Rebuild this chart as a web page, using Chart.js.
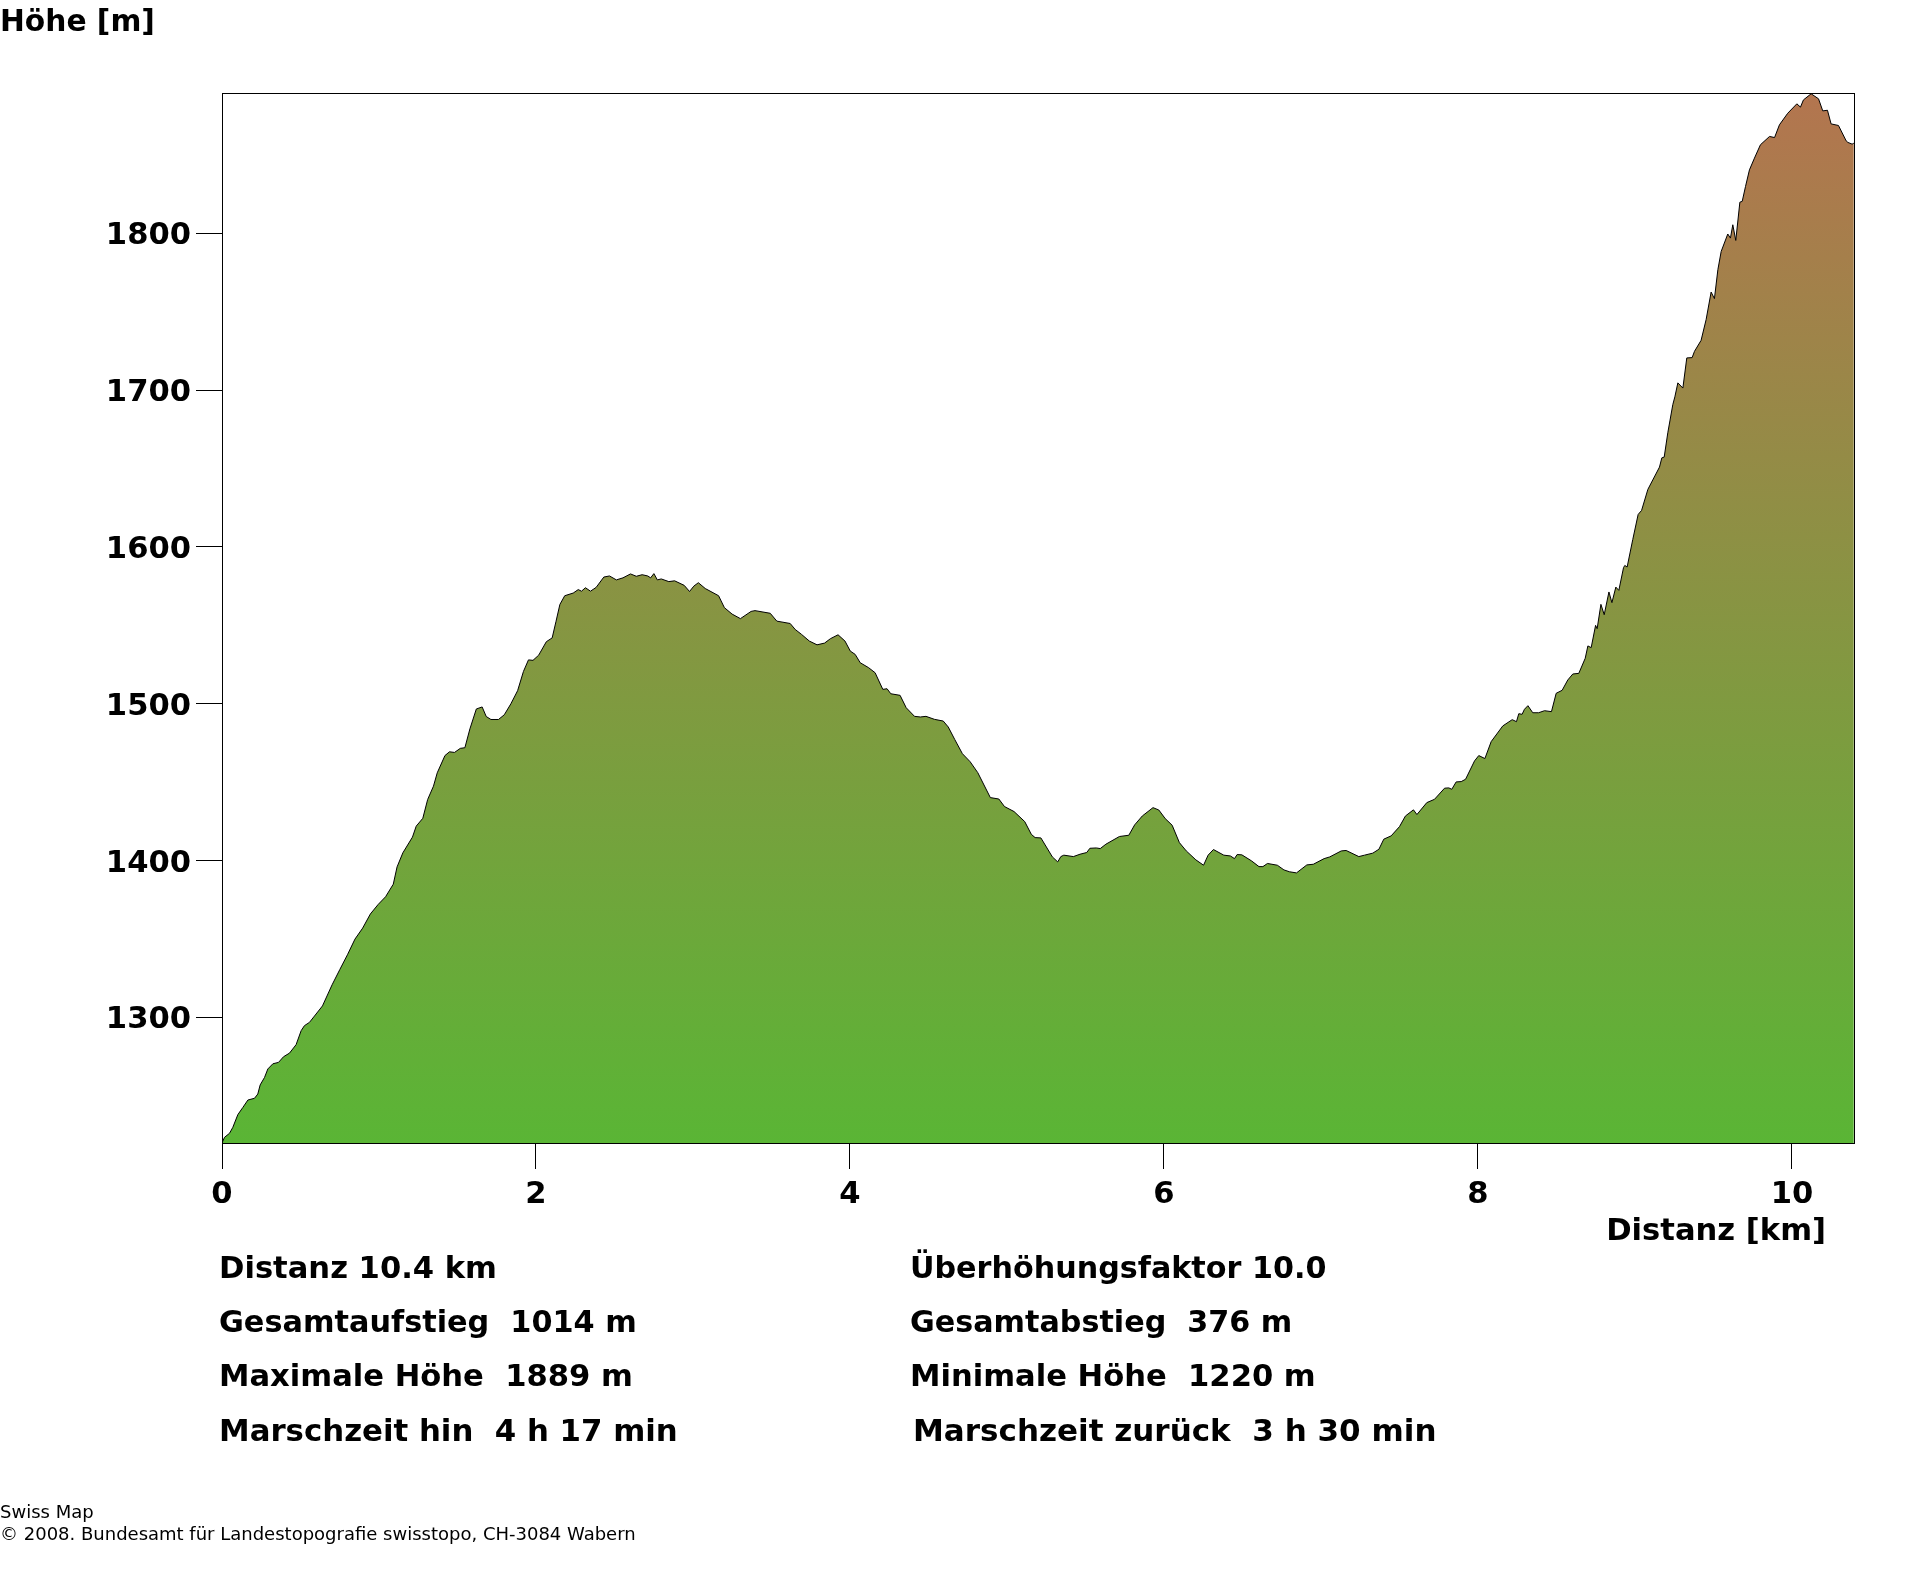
<!DOCTYPE html>
<html lang="de">
<head>
<meta charset="utf-8">
<title>Höhenprofil</title>
<script src="https://cdn.jsdelivr.net/npm/chart.js@4/dist/chart.umd.min.js"></script>
<style>
    html, body { margin: 0; padding: 0; background: #fff; }
    #page { position: relative; width: 1920px; height: 1572px; overflow: hidden; }
    canvas { position: absolute; left: 0; top: 0; }
    .label {
        position: absolute;
        white-space: pre;
        font: bold 30.6px "DejaVu Sans", sans-serif;
        line-height: 1;
        color: #000;
    }
    .credit { font: 18px "DejaVu Sans", sans-serif; line-height: 1; }
</style>
</head>
<body>
<div id="page">
    <canvas id="profile" width="1920" height="1572"></canvas>
    <div class="label" style="left:0;top:6px;font-size:29.7px">Höhe [m]</div>
    <div class="label" style="right:94px;top:1215px">Distanz [km]</div>
    <div class="label" style="left:219px;top:1253px">Distanz 10.4 km</div>
    <div class="label" style="left:219px;top:1307px;font-size:30.3px">Gesamtaufstieg  1014 m</div>
    <div class="label" style="left:219px;top:1361px">Maximale Höhe  1889 m</div>
    <div class="label" style="left:219px;top:1415px;font-size:30.8px">Marschzeit hin  4 h 17 min</div>
    <div class="label" style="left:910px;top:1253px;font-size:30.2px">Überhöhungsfaktor 10.0</div>
    <div class="label" style="left:910px;top:1307px;font-size:30.2px">Gesamtabstieg  376 m</div>
    <div class="label" style="left:910px;top:1361px">Minimale Höhe  1220 m</div>
    <div class="label" style="left:913px;top:1415px;font-size:31px">Marschzeit zurück  3 h 30 min</div>
    <div class="label credit" style="left:0;top:1503px">Swiss Map</div>
    <div class="label credit" style="left:0;top:1525px">© 2008. Bundesamt für Landestopografie swisstopo, CH-3084 Wabern</div>
</div>
<script>
const xTickValues = [0, 2, 4, 6, 8, 10];
const yTickValues = [1300, 1400, 1500, 1600, 1700, 1800];

const distanceKm = [
    0, 0.016, 0.048, 0.069, 0.101, 0.133, 0.165, 0.207, 0.228, 0.243, 0.271, 0.292, 0.324, 0.360, 0.392, 0.430, 0.472, 0.504, 0.525, 0.557,
    0.640, 0.701, 0.750, 0.799, 0.847, 0.896, 0.945, 0.994, 1.042, 1.091, 1.115, 1.152, 1.213, 1.237, 1.279, 1.310, 1.347, 1.371, 1.420, 1.449,
    1.481, 1.518, 1.547, 1.579, 1.620, 1.657, 1.683, 1.713, 1.761, 1.798, 1.840, 1.883, 1.920, 1.952, 1.981, 2.017, 2.066, 2.103, 2.127, 2.152,
    2.183, 2.237, 2.269, 2.290, 2.315, 2.347, 2.383, 2.432, 2.468, 2.512, 2.554, 2.602, 2.639, 2.676, 2.712, 2.730, 2.751, 2.773, 2.798, 2.846,
    2.883, 2.944, 2.978, 3.005, 3.034, 3.078, 3.163, 3.200, 3.249, 3.302, 3.370, 3.395, 3.492, 3.534, 3.619, 3.651, 3.692, 3.741, 3.790, 3.838,
    3.875, 3.924, 3.968, 4.002, 4.033, 4.065, 4.119, 4.160, 4.209, 4.236, 4.260, 4.319, 4.358, 4.411, 4.448, 4.484, 4.538, 4.594, 4.626, 4.667,
    4.716, 4.765, 4.814, 4.894, 4.948, 4.984, 5.045, 5.113, 5.155, 5.179, 5.216, 5.289, 5.323, 5.343, 5.362, 5.423, 5.465, 5.508, 5.528, 5.569,
    5.594, 5.630, 5.716, 5.776, 5.813, 5.862, 5.930, 5.967, 6.008, 6.052, 6.098, 6.142, 6.203, 6.252, 6.281, 6.315, 6.381, 6.423, 6.449, 6.466,
    6.496, 6.557, 6.605, 6.630, 6.659, 6.722, 6.764, 6.800, 6.844, 6.910, 6.951, 7.020, 7.056, 7.129, 7.160, 7.241, 7.277, 7.330, 7.369, 7.400,
    7.447, 7.500, 7.538, 7.589, 7.611, 7.674, 7.723, 7.787, 7.814, 7.833, 7.861, 7.893, 7.921, 7.978, 8.005, 8.044, 8.084, 8.158, 8.218, 8.245,
    8.260, 8.281, 8.296, 8.318, 8.349, 8.386, 8.424, 8.468, 8.498, 8.536, 8.572, 8.604, 8.642, 8.683, 8.700, 8.721, 8.749, 8.759, 8.783, 8.804,
    8.834, 8.853, 8.878, 8.897, 8.927, 8.935, 8.950, 8.986, 9.020, 9.042, 9.082, 9.156, 9.171, 9.186, 9.209, 9.241, 9.254, 9.273, 9.305, 9.330,
    9.364, 9.379, 9.421, 9.453, 9.485, 9.506, 9.528, 9.549, 9.591, 9.608, 9.623, 9.642, 9.668, 9.683, 9.704, 9.729, 9.761, 9.799, 9.857, 9.889,
    9.920, 9.973, 10.031, 10.054, 10.073, 10.122, 10.169, 10.196, 10.226, 10.249, 10.296, 10.345, 10.356, 10.383, 10.394
];

const heightM = [
    1220, 1223.6, 1226.2, 1230, 1238.1, 1242.7, 1247.4, 1248.5, 1251.2, 1257, 1261.8, 1267.2, 1270.5, 1271.4, 1275, 1277.3, 1282.7, 1291.6, 1294.8, 1296.9,
    1307.4, 1320.8, 1330.5, 1340, 1350, 1357, 1366, 1372, 1377, 1385, 1396, 1405, 1415, 1422, 1427, 1439, 1447.5, 1456, 1467, 1469.4,
    1469, 1471.6, 1472, 1484, 1496.7, 1498, 1491.9, 1490, 1490, 1493, 1500, 1508.4, 1520.6, 1528, 1527.7, 1531, 1539.6, 1542, 1552.3, 1563.3,
    1568.9, 1570.6, 1572.8, 1571.8, 1574, 1571.8, 1574.2, 1580.8, 1581.5, 1579, 1580.3, 1582.8, 1581.3, 1582.3, 1581.5, 1580.3, 1583, 1579, 1579.6, 1577.9,
    1578.4, 1575.5, 1571.6, 1575, 1577.2, 1573.5, 1568.9, 1561.3, 1557.2, 1554.3, 1558.9, 1559.4, 1557.7, 1552.7, 1551.2, 1547.4, 1544.2, 1540, 1537.6, 1538.7,
    1541.5, 1544, 1540, 1533.6, 1531.5, 1526.2, 1523, 1519.8, 1509.2, 1509.6, 1506.4, 1505.4, 1497.5, 1492, 1491.6, 1492, 1490.1, 1489, 1485.2, 1477.3,
    1468.2, 1463.1, 1456.1, 1440.2, 1439.3, 1434.5, 1431.3, 1424.9, 1416.8, 1414.7, 1414.5, 1402.4, 1399.2, 1402.6, 1403.5, 1402.6, 1404.1, 1405.2, 1407.9, 1408.1,
    1407.7, 1410.5, 1415.4, 1416.2, 1422.8, 1428.5, 1433.8, 1432.3, 1426.8, 1422.6, 1411.5, 1406.2, 1400.5, 1397.1, 1403.5, 1407.1, 1403.5, 1403, 1401.3, 1403.9,
    1403.7, 1399.9, 1396.2, 1396.2, 1398.2, 1397.1, 1394.1, 1392.9, 1392.2, 1397.3, 1397.7, 1401.3, 1402.4, 1406.2, 1406.5, 1402.6, 1403.5, 1404.8, 1407.3, 1413.7,
    1415.8, 1421.7, 1428.5, 1432.4, 1429.4, 1437, 1439.1, 1446.2, 1446.4, 1445.5, 1450.2, 1450.4, 1451.9, 1463.6, 1467, 1465.1, 1475.9, 1485.9, 1489.9, 1488.6,
    1493.7, 1493.3, 1496.5, 1498.8, 1494.3, 1494.3, 1495.6, 1495, 1506.7, 1508.6, 1515.2, 1519, 1519.4, 1529, 1536.9, 1535.8, 1550, 1547.9, 1563.4, 1556.8,
    1571.3, 1564.5, 1574.4, 1572.3, 1586.8, 1588.2, 1587.2, 1604.8, 1620.7, 1623.3, 1636.7, 1650.9, 1656.8, 1657.3, 1672.8, 1690.8, 1695.7, 1704.6, 1701.3, 1720.5,
    1720.7, 1724.7, 1731.7, 1744.9, 1762.5, 1758.3, 1776.8, 1788.4, 1799.5, 1796.9, 1805.4, 1795.4, 1819.8, 1820.3, 1829.8, 1840.4, 1847.9, 1856.4, 1861.7, 1861,
    1869.1, 1876.5, 1882.5, 1880.4, 1885, 1888.9, 1885.7, 1878, 1878.4, 1869.7, 1868.7, 1858.9, 1857.9, 1856.8, 1857.4
];

const tickFont = { family: '"DejaVu Sans", sans-serif', size: 30.6, weight: 'bold' };

// vertical colour ramp, green valley to brown summit
function reliefFill(context) {
    const area = context.chart.chartArea;
    if (!area) return '#5ab535';
    const ramp = context.chart.ctx.createLinearGradient(0, area.bottom, 0, area.top);
    ramp.addColorStop(0, '#5ab535');
    ramp.addColorStop(1, '#b3754f');
    return ramp;
}

const plotFrame = {
    id: 'plotFrame',
    afterDatasetsDraw(chart) {
        const { ctx, chartArea: a } = chart;
        ctx.save();
        ctx.strokeStyle = '#000';
        ctx.lineWidth = 1;
        ctx.strokeRect(a.left + 0.5, a.top + 0.5, a.width, a.height);
        ctx.restore();
    }
};

new Chart(document.getElementById('profile'), {
    type: 'line',
    data: {
        datasets: [{
            data: distanceKm.map((km, i) => ({ x: km, y: heightM[i] })),
            borderColor: '#000',
            borderWidth: 1,
            backgroundColor: reliefFill,
            fill: 'start',
            pointRadius: 0,
            tension: 0
        }]
    },
    options: {
        responsive: false,
        animation: false,
        devicePixelRatio: 1,
        layout: { padding: { top: 93, right: 66 } },
        plugins: { legend: { display: false }, tooltip: { enabled: false } },
        scales: {
            x: {
                type: 'linear',
                min: 0,
                max: 10.395,
                afterBuildTicks: scale => { scale.ticks = xTickValues.map(v => ({ value: v })); },
                afterFit: scale => { scale.height = 429; },
                grid: { drawOnChartArea: false, tickLength: 26, tickColor: '#000' },
                border: { color: '#000' },
                ticks: {
                    color: '#000',
                    font: tickFont,
                    maxRotation: 0,
                    autoSkip: false,
                    padding: 8,
                    callback: value => String(value)
                }
            },
            y: {
                type: 'linear',
                min: 1220,
                max: 1889.4,
                afterBuildTicks: scale => { scale.ticks = yTickValues.map(v => ({ value: v })); },
                afterFit: scale => { scale.width = 222; },
                grid: { drawOnChartArea: false, tickLength: 26, tickColor: '#000' },
                border: { color: '#000' },
                ticks: {
                    color: '#000',
                    font: tickFont,
                    padding: 5,
                    labelOffset: 3,
                    callback: value => String(value)
                }
            }
        }
    },
    plugins: [plotFrame]
});
</script>
</body>
</html>
